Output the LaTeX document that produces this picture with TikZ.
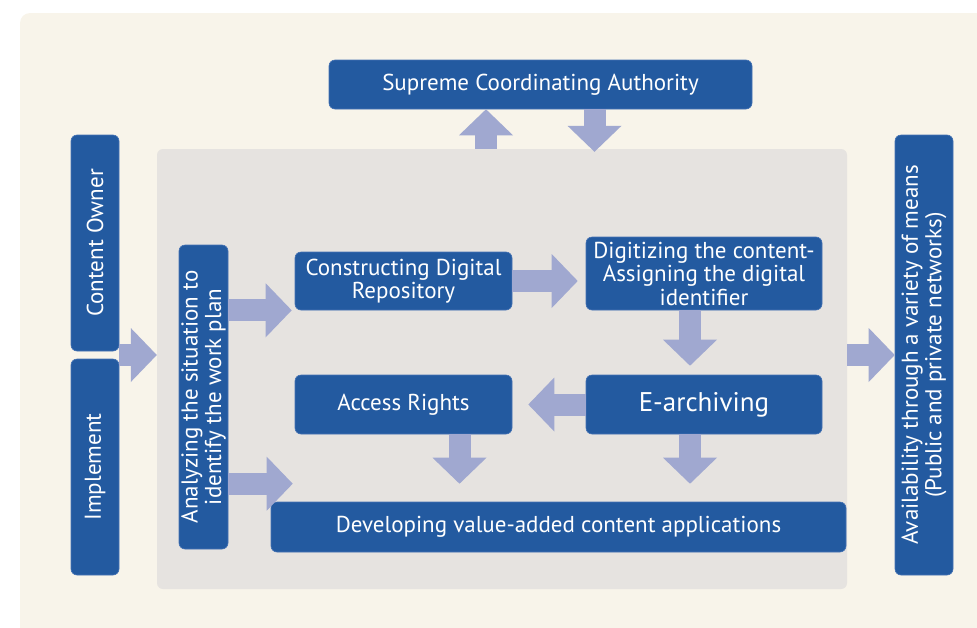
\documentclass[tikz,border=0pt]{standalone}
\usepackage{fontspec}
\setmainfont{PT Sans}
\usepackage{tikz}
\usetikzlibrary{arrows.meta}
\usetikzlibrary{positioning}
\definecolor{cream}{RGB}{248,244,234}
\definecolor{panelgray}{RGB}{230,227,224}
\definecolor{boxblue}{RGB}{35,90,160}
\definecolor{boxedge}{RGB}{70,115,180}
\definecolor{arrowblue}{RGB}{160,168,208}
\tikzset{boxfont/.style={font=\fontsize{23}{23.5}\selectfont}}

\begin{document}
\begin{tikzpicture}[x=1pt,y=-1pt,
      on grid,
      node distance=131pt,
      box/.style={rectangle,
        rounded corners=6pt,
        fill=boxblue,
        draw=boxedge,
        line width=0.6pt,
        text=white,
        align=center,
        inner sep=0pt,
        boxfont},
      upbox/.style={box,rotate=90},
      fat/.style={draw=arrowblue,
        line width=22pt,
        -{Triangle[width=54pt,length=26pt,line width=0pt]}}]

    \useasboundingbox (0,0) rectangle (977,627);
    \fill[cream,rounded corners=10pt] (20,13) rectangle (990,640);
    \node[fill=panelgray,rounded corners=6pt,inner sep=0pt,
      minimum width=690pt,minimum height=440pt]
      (Panel) at (502,369) {};

    \node[box,minimum width=423pt,minimum height=49pt]
      (Supreme) at (540.5,84.5) {Supreme Coordinating Authority};
    \node[upbox,minimum width=216pt,minimum height=48pt]
      (Owner) at (95,243) {Content Owner};
    \node[upbox,minimum width=216pt,minimum height=48pt]
      (Implement) at (95,467) {Implement};
    \node[upbox,minimum width=304pt,minimum height=49pt]
      (Analyze) at (203.5,397) {Analyzing the situation to\\identify the work plan};
    \node[upbox,minimum width=440pt,minimum height=58pt]
      (Avail) at (924,355) {Availability through a variety of means\\(Public and private networks)};
    \node[box,minimum width=217pt,minimum height=58pt]
      (Construct) at (403.5,281) {Constructing Digital\\Repository};
    \node[box,minimum width=236pt,minimum height=73pt]
      (Digitize) at (704,273.5) {Digitizing the content-\\Assigning the digital\\identifier};
    \node[box,minimum width=236pt,minimum height=59pt,
      font=\fontsize{27}{28}\selectfont]
      (Archive) [below=of Digitize] {E-archiving};
    \node[box,minimum width=217pt,minimum height=59pt]
      (Access) [left=300.5pt of Archive] {Access Rights};
    \node[box,minimum width=575pt,minimum height=50pt]
      (Develop) at (558.5,527) {Developing value-added content applications};

    \coordinate (split) at (119,355);
    \coordinate (DevIn) at ([xshift=22pt,yshift=18pt]Develop.north west);

    \draw[fat] ([xshift=-54.5pt]Supreme.south |- Panel.north) -- ([xshift=-54.5pt]Supreme.south);
    \draw[fat,shorten >=-3pt] ([xshift=54pt]Supreme.south) -- ([xshift=54pt]Supreme.south |- Panel.north);
    \draw[fat] (split) -- (Panel.west |- split);
    \draw[fat] (Panel.east |- split) -- (Avail.north |- split);
    \draw[fat,shorten >=3pt] (Analyze.south |- Construct.south west) -- (Construct.south west);
    \draw[fat] (Analyze.south |- DevIn) -- (DevIn);
    \draw[fat,shorten >=8pt] (Construct.east) -- (Digitize.west |- Construct.east);
    \draw[fat,shorten >=9pt] ([xshift=-14pt]Digitize.south) -- ([xshift=-14pt]Archive.north);
    \draw[fat,shorten >=16pt] (Archive.west) -- (Access.east);
    \draw[fat,shorten >=18pt] ([xshift=56pt]Access.south) -- ([xshift=56pt]Access.south |- Develop.north);
    \draw[fat,shorten >=18pt] ([xshift=-14pt]Archive.south) -- ([xshift=-14pt]Archive.south |- Develop.north);

  \end{tikzpicture}
\end{document}
